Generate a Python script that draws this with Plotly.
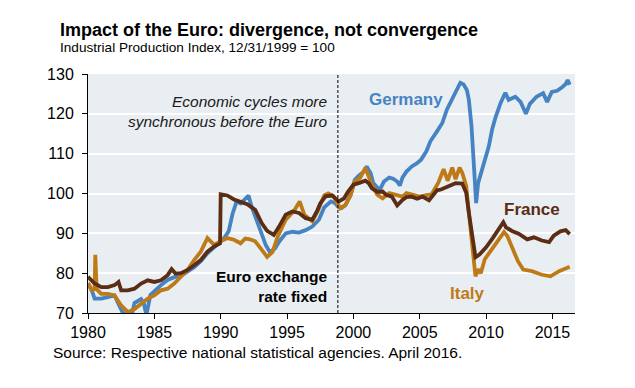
import plotly.graph_objects as go

# ---- data ----
germany_x = [1980.0, 1980.3, 1980.5, 1981.0, 1981.5, 1982.0, 1982.3, 1982.6, 1983.0, 1983.3,
             1983.5, 1984.0, 1984.2, 1984.4, 1984.7, 1985.0, 1985.5, 1986.0, 1986.5, 1987.0,
             1987.5, 1988.0, 1988.5, 1989.0, 1989.5, 1990.0, 1990.3, 1990.6, 1990.9, 1991.2,
             1991.5, 1991.8, 1992.1, 1992.3, 1992.6, 1993.0, 1993.4, 1993.7, 1994.1, 1994.4,
             1994.9, 1995.4, 1995.9, 1996.4, 1996.9, 1997.4, 1997.8, 1998.3, 1998.6, 1998.9,
             1999.1, 1999.4, 1999.8, 2000.1, 2000.4, 2000.8, 2001.0, 2001.3, 2001.5, 2001.8,
             2002.0, 2002.3, 2002.7, 2003.0, 2003.3, 2003.5, 2003.7, 2004.0, 2004.4, 2004.8,
             2005.1, 2005.5, 2005.8, 2006.3, 2006.7, 2007.05, 2007.4, 2007.8, 2008.06, 2008.3,
             2008.55, 2008.7, 2008.9, 2009.1, 2009.25, 2009.4, 2009.7, 2009.9, 2010.2, 2010.45,
             2010.7, 2011.1, 2011.45, 2011.7, 2012.2, 2012.6, 2013.0, 2013.3, 2013.8, 2014.3,
             2014.6, 2014.95, 2015.35, 2015.7, 2016.0, 2016.15, 2016.3]
germany_y = [77.5, 75.5, 73.6, 73.6, 74.0, 74.4, 72.3, 70.2, 69.0, 69.5,
             72.5, 73.5, 72.5, 69.5, 74.5, 75.5, 77.0, 78.3, 79.0, 79.3,
             80.3, 81.5, 83.0, 85.0, 86.5, 88.0, 89.0, 90.5, 95.0, 98.0,
             97.5, 98.5, 99.5, 97.0, 94.2, 90.4, 87.0, 85.3, 86.2, 87.9,
             90.0, 90.4, 90.2, 90.8, 91.7, 93.4, 96.5, 98.0, 97.6, 96.5,
             96.3, 97.1, 99.7, 103.4, 104.5, 105.5, 106.8, 105.1, 102.6, 101.5,
             101.0, 103.0, 104.0, 103.7, 103.0, 102.0, 104.0, 105.5, 106.8, 107.6,
             108.5, 110.6, 113.1, 115.6, 117.7, 121.1, 123.6, 126.1, 127.8, 127.4,
             126.0, 123.6, 116.9, 106.0, 97.6, 102.6, 106.0, 108.5, 111.8, 116.0,
             119.0, 122.8, 125.3, 123.5, 124.3, 123.0, 120.0, 122.5, 124.3, 125.2,
             123.0, 125.5, 125.8, 126.6, 127.5, 128.5, 127.3]

italy_x = [1980.0, 1980.3, 1980.5, 1980.55, 1980.65, 1981.0, 1981.5, 1982.0, 1982.5, 1983.0,
           1983.5, 1984.0, 1984.5, 1985.0, 1985.5, 1986.0, 1986.5, 1987.0, 1987.5, 1988.0,
           1988.5, 1989.0, 1989.5, 1990.0, 1990.5, 1991.0, 1991.5, 1991.85, 1992.2, 1992.6,
           1993.1, 1993.5, 1993.9, 1994.3, 1994.9, 1995.5, 1995.95, 1996.3, 1996.9, 1997.3,
           1997.8, 1998.1, 1998.5, 1999.0, 1999.4, 1999.8, 2000.1, 2000.5, 2000.9, 2001.15,
           2001.4, 2001.8, 2002.2, 2002.7, 2003.2, 2003.7, 2004.0, 2004.5, 2005.0, 2005.5,
           2005.9, 2006.4, 2006.8, 2007.1, 2007.45, 2007.7, 2008.0, 2008.2, 2008.5, 2008.7,
           2009.0, 2009.2, 2009.4, 2009.6, 2009.9, 2010.3, 2010.75, 2011.1, 2011.35, 2011.6,
           2011.95, 2012.4, 2012.8, 2013.45, 2014.2, 2014.85, 2015.5, 2016.1, 2016.3]
italy_y = [77.4, 75.7, 76.0, 84.6, 76.0, 74.8, 74.8, 74.4, 71.9, 70.2,
           71.0, 72.3, 73.6, 74.4, 75.7, 76.1, 77.4, 79.1, 80.8, 83.3,
           85.4, 88.8, 87.1, 88.0, 88.8, 88.4, 87.5, 88.7, 88.5, 88.0,
           86.0, 84.1, 85.3, 89.2, 93.4, 95.5, 98.0, 94.7, 93.0, 95.5,
           99.5, 100.0, 99.3, 96.3, 97.1, 99.7, 103.0, 103.9, 106.4, 104.3,
           102.2, 99.7, 98.8, 100.1, 99.7, 99.2, 100.1, 99.7, 99.2, 99.6,
           99.8, 102.7, 106.1, 103.2, 106.5, 103.6, 106.5, 105.2, 101.9, 95.2,
           84.2, 79.2, 81.0, 80.0, 83.5, 85.3, 87.6, 89.3, 90.3, 89.3,
           86.5, 83.0, 80.9, 80.5, 79.6, 79.2, 80.5, 81.3, 81.6]

france_x = [1980.0, 1980.5, 1981.0, 1981.5, 1982.0, 1982.3, 1982.5, 1983.0, 1983.5, 1984.0,
            1984.5, 1985.0, 1985.5, 1986.0, 1986.3, 1986.6, 1987.0, 1987.5, 1988.0, 1988.5,
            1989.0, 1989.5, 1989.95, 1990.0, 1990.5, 1991.0, 1991.5, 1992.0, 1992.6, 1993.1,
            1993.5, 1994.0, 1994.4, 1994.9, 1995.4, 1995.9, 1996.4, 1996.9, 1997.3, 1997.5,
            1997.9, 1998.4, 1998.9, 1999.3, 1999.6, 2000.0, 2000.4, 2000.9, 2001.15, 2001.4,
            2001.8, 2002.2, 2002.5, 2002.9, 2003.3, 2003.7, 2004.0, 2004.4, 2004.8, 2005.2,
            2005.7, 2006.3, 2006.6, 2007.1, 2007.7, 2008.2, 2008.5, 2008.7, 2009.0, 2009.2,
            2009.5, 2010.0, 2010.5, 2010.9, 2011.3, 2011.5, 2011.95, 2012.45, 2013.1, 2013.6,
            2014.2, 2014.75, 2015.1, 2015.6, 2016.0, 2016.3]
france_y = [79.1, 77.4, 76.5, 76.5, 77.0, 77.8, 75.7, 75.7, 76.1, 77.4,
            78.2, 77.8, 78.2, 79.5, 81.0, 79.9, 80.0, 80.8, 82.0, 83.3,
            85.4, 86.7, 87.5, 99.8, 99.5, 98.5, 97.9, 97.3, 95.9, 92.5,
            90.6, 89.6, 91.7, 94.7, 95.5, 95.1, 93.8, 93.4, 95.9, 97.5,
            99.3, 99.5, 98.0, 98.8, 100.5, 102.2, 102.6, 103.2, 102.6, 101.3,
            100.4, 100.5, 99.6, 99.2, 97.0, 98.4, 99.1, 99.2, 98.7, 99.2,
            98.3, 100.8, 101.0, 101.8, 102.6, 102.5, 100.2, 95.2, 88.4, 84.0,
            84.7, 86.5, 88.8, 91.0, 92.8, 91.5, 90.6, 89.9, 88.5, 89.0,
            88.2, 87.8, 89.4, 90.5, 90.8, 89.8]

x_ticks = [1980, 1985, 1990, 1995, 2000, 2005, 2010, 2015]
y_ticks = [70, 80, 90, 100, 110, 120, 130]
euro_fixed_year = 1998.83

C_GER = "#4683C3"
C_ITA = "#BF7A18"
C_FRA = "#5A2D14"
FONT = "Arial, Liberation Sans, sans-serif"

fig = go.Figure()
fig.add_trace(go.Scatter(x=germany_x, y=germany_y, mode="lines",
                         line=dict(color=C_GER, width=3.8), name="Germany"))
fig.add_trace(go.Scatter(x=italy_x, y=italy_y, mode="lines",
                         line=dict(color=C_ITA, width=3.8), name="Italy"))
fig.add_trace(go.Scatter(x=france_x, y=france_y, mode="lines",
                         line=dict(color=C_FRA, width=3.8), name="France"))

fig.add_shape(type="line", x0=euro_fixed_year, x1=euro_fixed_year, y0=0, y1=1,
              xref="x", yref="paper", line=dict(color="black", width=1, dash="3px,2px"))

# plot area: 487 px wide, 239 px tall
ann = []
ann.append(dict(text="<b>Impact of the Euro: divergence, not convergence</b>", x=-0.062, y=1.184,
                xref="paper", yref="paper", xanchor="left", yanchor="middle", showarrow=False,
                font=dict(size=18, color="black", family=FONT)))
ann.append(dict(text="Industrial Production Index, 12/31/1999 = 100", x=-0.062, y=1.109,
                xref="paper", yref="paper", xanchor="left", yanchor="middle", showarrow=False,
                font=dict(size=13.6, color="black", family=FONT)))
ann.append(dict(text="Source: Respective national statistical agencies. April 2016.", x=-0.076, y=-0.167,
                xref="paper", yref="paper", xanchor="left", yanchor="middle", showarrow=False,
                font=dict(size=15.5, color="black", family=FONT)))
ann.append(dict(text="<i>Economic cycles more<br>synchronous before the Euro</i>", x=1998.16, y=120.7,
                xanchor="right", yanchor="middle", align="right", showarrow=False,
                font=dict(size=15.5, color="#1a1a1a", family=FONT)))
ann.append(dict(text="<b>Euro exchange<br>rate fixed</b>", x=1998.16, y=76.65,
                xanchor="right", yanchor="middle", align="right", showarrow=False,
                font=dict(size=15.5, color="black", family=FONT)))
ann.append(dict(text="<b>Germany</b>", x=2003.96, y=123.7, xanchor="center", yanchor="middle",
                showarrow=False, font=dict(size=17, color=C_GER, family=FONT)))
ann.append(dict(text="<b>France</b>", x=2013.46, y=96.1, xanchor="center", yanchor="middle",
                showarrow=False, font=dict(size=17, color=C_FRA, family=FONT)))
ann.append(dict(text="<b>Italy</b>", x=2008.6, y=75.0, xanchor="center", yanchor="middle",
                showarrow=False, font=dict(size=17, color=C_ITA, family=FONT)))

fig.update_layout(
    width=635, height=388,
    margin=dict(l=80, r=68, t=66, b=83),
    paper_bgcolor="white", plot_bgcolor="#E9EEF2",
    showlegend=False,
    font=dict(family=FONT, size=16, color="black"),
    annotations=ann,
    xaxis=dict(range=[1980, 2016.7], tickvals=x_ticks, ticktext=[str(t) for t in x_ticks],
               showgrid=False, zeroline=False, showline=True, linecolor="black", linewidth=1,
               ticks="outside", ticklen=5, tickcolor="black", tickfont=dict(size=16)),
    yaxis=dict(range=[70, 130], tickvals=y_ticks, showgrid=True, gridcolor="white", gridwidth=1.5,
               zeroline=False, showline=True, linecolor="black", linewidth=1,
               ticks="outside", ticklen=5, tickcolor="black", tickfont=dict(size=16),
               ticklabelstandoff=5),
)

fig.write_html("out.html")
